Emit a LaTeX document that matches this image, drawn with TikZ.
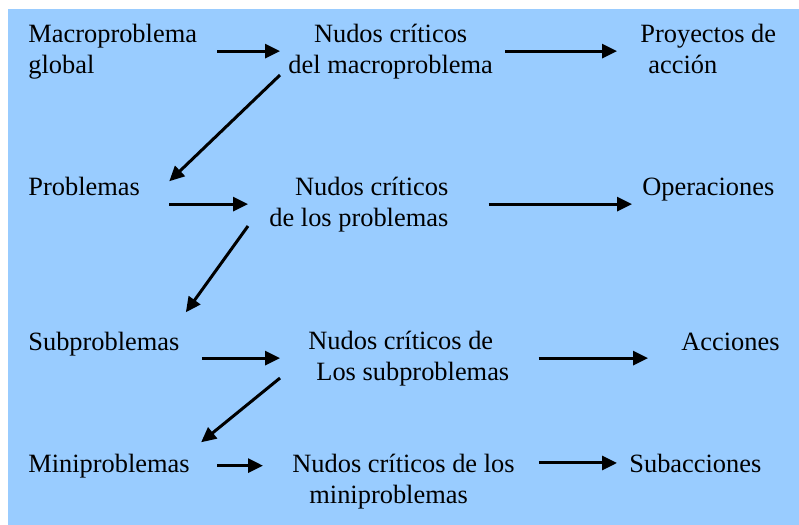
\documentclass[tikz,border=0pt]{standalone}
\usepackage{fontspec}
\setmainfont{Liberation Serif}
\usetikzlibrary{arrows.meta}
\definecolor{skyblue}{HTML}{99CCFF}

\begin{document}
\begin{tikzpicture}[x=0.5pt, y=-0.5pt, >={Triangle[length=7.5pt, width=7pt]},
    lbl/.style={anchor=base west, inner sep=0pt, font=\fontsize{13.2pt}{15.5pt}\selectfont},
    arr/.style={->, line width=1.5pt, black}]
  % Background
  \useasboundingbox (0, 0) rectangle (799, 525);
  \fill[white] (0, 0) rectangle (799, 525);
  \fill[skyblue] (8, 9) rectangle (799, 525);

  % Problems (two-line nodes sit on their last baseline)
  \node[lbl, align=left] (macro) at (28, 73) {Macroproblema\\global};
  \node[lbl] (prob) at (28, 195) {Problemas};
  \node[lbl] (subp) at (28, 350) {Subproblemas};
  \node[lbl] (mini) at (28, 472) {Miniproblemas};

  % Critical knots
  \node[lbl, align=center] (nmacro) at (288, 73) {Nudos críticos\\del macroproblema};
  \node[lbl, align=right] (nprob) at (269, 226) {Nudos críticos\\de los problemas};
  \node[lbl, align=left] (nsub) at (308, 380) {Nudos críticos de\\\hspace*{4pt}Los subproblemas};
  \node[lbl, align=left] (nmini) at (292, 503) {Nudos críticos de los\\\hspace*{8.5pt}miniproblemas};

  % Actions
  \node[lbl, align=left] (proy) at (640, 73) {Proyectos de\\\hspace*{4pt}acción};
  \node[lbl] (oper) at (642, 195) {Operaciones};
  \node[lbl] (acc) at (681, 350) {Acciones};
  \node[lbl] (subacc) at (629, 472) {Subacciones};

  % Row arrows
  \draw[arr, shorten <=10pt, shorten >=4pt] (macro.east |- nmacro.west) -- (nmacro.west);
  \draw[arr, shorten <=6pt, shorten >=11.5pt] (nmacro.east) -- (nmacro.east -| proy.west);
  \draw[arr, shorten <=14.5pt, shorten >=10.5pt] (prob.east |- nprob.west) -- (nprob.west);
  \draw[arr, shorten <=20pt, shorten >=5pt] (nprob.east) -- (nprob.east -| oper.west);
  \draw[arr, shorten <=11pt, shorten >=14pt] (subp.east |- nsub.west) -- (nsub.west);
  \draw[arr, shorten <=14.5pt, shorten >=16.5pt] (nsub.east) -- (nsub.east -| acc.west);
  \draw[arr, shorten <=13.5pt, shorten >=14.5pt] (mini.east) -- (mini.east -| nmini.west);
  \draw[arr, shorten <=12pt, shorten >=6pt] (nmini.east |- subacc.west) -- (subacc.west);

  % Down arrows
  \draw[arr] ([shift={(-8,-4)}]nmacro.south west) -- ([shift={(29,5)}]prob.north east);
  \draw[arr] ([shift={(-21,-6)}]nprob.south west) -- ([shift={(6,-19)}]subp.north east);
  \draw[arr] ([shift={(-28,-8)}]nsub.south west) -- ([shift={(11,-11)}]mini.north east);
\end{tikzpicture}
\end{document}
